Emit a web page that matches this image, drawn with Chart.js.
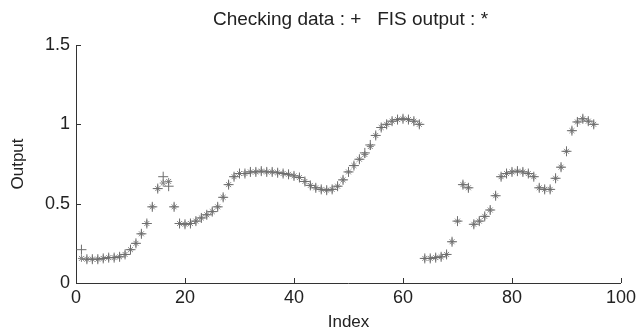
<!DOCTYPE html>
<html>
<head>
<meta charset="utf-8">
<script src="https://cdn.jsdelivr.net/npm/chart.js@4.4.1/dist/chart.umd.min.js"></script>
<style>
html,body{margin:0;padding:0;background:#fff;}
#wrap{width:640px;height:333px;}
</style>
</head>
<body>
<div id="wrap"><canvas id="c" width="640" height="333"></canvas></div>
<script>
const indexValues = [1,2,3,4,5,6,7,8,9,10,11,12,13,14,15,16,17,18,19,20,21,22,23,24,25,26,27,28,29,30,31,32,33,34,35,36,37,38,39,40,41,42,43,44,45,46,47,48,49,50,51,52,53,54,55,56,57,58,59,60,61,62,63,64,65,66,67,68,69,70,71,72,73,74,75,76,77,78,79,80,81,82,83,84,85,86,87,88,89,90,91,92,93,94,95];
const checkingData = [0.21,0.15,0.15,0.15,0.155,0.16,0.16,0.165,0.18,0.21,0.25,0.31,0.375,0.48,0.595,0.67,0.61,0.48,0.375,0.37,0.375,0.39,0.41,0.43,0.45,0.48,0.54,0.62,0.67,0.69,0.69,0.70,0.70,0.705,0.70,0.70,0.695,0.69,0.685,0.675,0.665,0.64,0.615,0.60,0.59,0.585,0.59,0.61,0.65,0.70,0.74,0.78,0.82,0.87,0.93,0.98,1.00,1.02,1.03,1.035,1.03,1.02,1.00,0.155,0.155,0.16,0.165,0.18,0.26,0.39,0.62,0.60,0.37,0.39,0.42,0.46,0.55,0.67,0.69,0.70,0.705,0.70,0.69,0.67,0.60,0.59,0.59,0.66,0.73,0.83,0.96,1.015,1.035,1.02,1.00];
const fisOutput = [0.155,0.15,0.15,0.15,0.155,0.16,0.16,0.165,0.18,0.21,0.25,0.31,0.375,0.48,0.595,0.63,0.64,0.48,0.375,0.37,0.375,0.39,0.41,0.43,0.45,0.48,0.54,0.62,0.67,0.69,0.69,0.70,0.70,0.705,0.70,0.70,0.695,0.69,0.685,0.675,0.665,0.64,0.615,0.60,0.59,0.585,0.59,0.61,0.65,0.70,0.74,0.78,0.81,0.86,0.93,0.98,1.00,1.02,1.03,1.035,1.03,1.02,1.00,0.155,0.155,0.16,0.165,0.18,0.26,0.39,0.62,0.60,0.37,0.39,0.42,0.46,0.55,0.67,0.69,0.70,0.705,0.70,0.69,0.67,0.60,0.59,0.59,0.66,0.73,0.83,0.96,1.015,1.035,1.02,1.00];
const xTicks = [0,20,40,60,80,100];
const yTicks = [0,0.5,1,1.5];
const titleText = 'Checking data : +   FIS output : *';
const xLabel = 'Index';
const yLabel = 'Output';

const FONT = 'Liberation Sans, Arial, sans-serif';
const toPoints = vals => indexValues.map((x, i) => ({x: x, y: vals[i]}));

const axesDecor = {
  id: 'axesDecor',
  afterDraw(chart) {
    const ctx = chart.ctx;
    const xs = chart.scales.x, ys = chart.scales.y;
    const area = chart.chartArea;
    ctx.save();
    ctx.strokeStyle = '#333';
    ctx.lineWidth = 1;
    ctx.beginPath();
    xTicks.forEach(v => {
      const px = Math.round(xs.getPixelForValue(v)) + 0.5;
      ctx.moveTo(px, area.bottom);
      ctx.lineTo(px, area.bottom - 5);
    });
    yTicks.forEach(v => {
      const py = Math.round(ys.getPixelForValue(v)) + 0.5;
      ctx.moveTo(area.left, py);
      ctx.lineTo(area.left + 5, py);
    });
    ctx.stroke();
    // title centred over the plot area
    ctx.fillStyle = '#222';
    ctx.font = '19px ' + FONT;
    ctx.textAlign = 'center';
    ctx.textBaseline = 'middle';
    ctx.fillText(titleText, (area.left + area.right) / 2 + 2, 20);
    ctx.restore();
  }
};

new Chart(document.getElementById('c'), {
  type: 'scatter',
  data: {
    datasets: [
      {
        label: 'Checking data',
        data: toPoints(checkingData),
        pointStyle: 'cross',
        pointRadius: 5,
        pointBorderWidth: 1,
        borderColor: '#6e6e6e',
        backgroundColor: '#6e6e6e',
        showLine: false
      },
      {
        label: 'FIS output',
        data: toPoints(fisOutput),
        pointStyle: 'star',
        pointRadius: 3.5,
        pointBorderWidth: 1,
        borderColor: '#858585',
        backgroundColor: '#858585',
        showLine: false
      }
    ]
  },
  options: {
    responsive: false,
    animation: false,
    events: [],
    layout: {padding: {left: 0, right: 18, top: 45, bottom: 0}},
    plugins: {
      legend: {display: false},
      tooltip: {enabled: false},
      title: {display: false}
    },
    scales: {
      x: {
        type: 'linear',
        min: 0, max: 100,
        afterBuildTicks: s => { s.ticks = xTicks.map(v => ({value: v})); },
        afterFit: s => { s.height = 50; },
        grid: {drawOnChartArea: false, drawTicks: false},
        border: {display: true, color: '#333', width: 1},
        ticks: {color: '#222', padding: 4, maxRotation: 0, font: {family: FONT, size: 18}},
        title: {display: true, text: xLabel, color: '#222', padding: {top: 0, bottom: 0}, font: {family: FONT, size: 17}}
      },
      y: {
        type: 'linear',
        min: 0, max: 1.5,
        afterBuildTicks: s => { s.ticks = yTicks.map(v => ({value: v})); },
        afterFit: s => { s.width = 76; },
        grid: {drawOnChartArea: false, drawTicks: false},
        border: {display: true, color: '#333', width: 1},
        ticks: {color: '#222', padding: 6, font: {family: FONT, size: 18}, callback: v => String(v)},
        title: {display: true, text: yLabel, color: '#222', padding: {top: 8, bottom: 0}, font: {family: FONT, size: 17}}
      }
    }
  },
  plugins: [axesDecor]
});
</script>
</body>
</html>
